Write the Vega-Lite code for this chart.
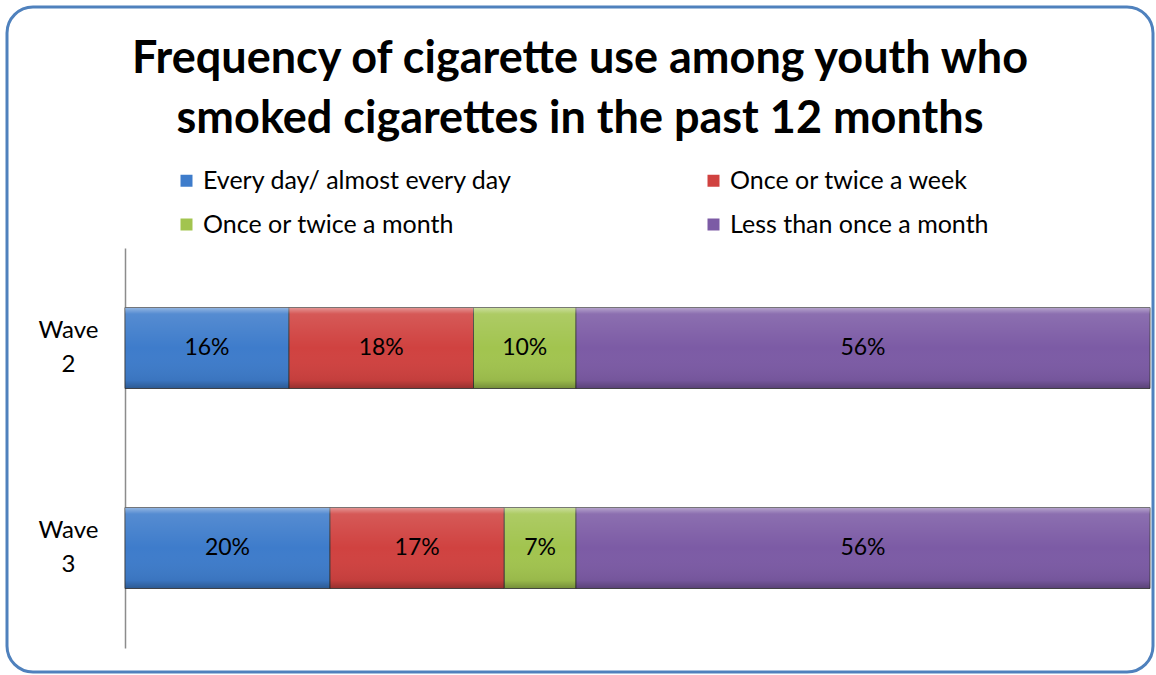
{
  "$schema": "https://vega.github.io/schema/vega-lite/v6.json",
  "width": 1146,
  "height": 665,
  "autosize": {"type": "none"},
  "padding": {"left": 7, "top": 7, "right": 3, "bottom": 3},
  "background": "white",
  "view": {"stroke": "#4F81BD", "strokeWidth": 3, "cornerRadius": 26, "fill": "white"},
  "title": {
    "text": ["Frequency of cigarette use among youth who", "smoked cigarettes in the past 12 months"],
    "anchor": "middle",
    "font": "Lato",
    "fontSize": 45,
    "fontWeight": "bold",
    "color": "#000000",
    "lineHeight": 60,
    "offset": -135
  },
  "data": {
    "values": [
      {"wave": "Wave 2", "cat": "Every day/ almost every day", "k": 1, "pct": 0.16},
      {"wave": "Wave 2", "cat": "Once or twice a week", "k": 2, "pct": 0.18},
      {"wave": "Wave 2", "cat": "Once or twice a month", "k": 3, "pct": 0.10},
      {"wave": "Wave 2", "cat": "Less than once a month", "k": 4, "pct": 0.56},
      {"wave": "Wave 3", "cat": "Every day/ almost every day", "k": 1, "pct": 0.20},
      {"wave": "Wave 3", "cat": "Once or twice a week", "k": 2, "pct": 0.17},
      {"wave": "Wave 3", "cat": "Once or twice a month", "k": 3, "pct": 0.07},
      {"wave": "Wave 3", "cat": "Less than once a month", "k": 4, "pct": 0.56}
    ]
  },
  "encoding": {
    "y": {
      "field": "wave",
      "type": "nominal",
      "title": null,
      "scale": {"domain": ["Wave 2", "Wave 3"], "range": [241, 641], "paddingInner": 0.595, "paddingOuter": 0.2975},
      "axis": {
        "offset": -118,
        "domainColor": "#8C8C8C",
        "domainWidth": 1.5,
        "ticks": false,
        "tickSize": 0,
        "labelPadding": 57,
        "labelAlign": "center",
        "labelBaseline": "middle",
        "labelOffset": -17,
        "labelFont": "Lato",
        "labelFontSize": 24,
        "labelColor": "#000000",
        "labelLineHeight": 34,
        "labelExpr": "split(datum.label, ' ')",
        "grid": false
      }
    }
  },
  "layer": [
    {
      "mark": {"type": "bar", "stroke": "#3a3a3a", "strokeWidth": 1, "strokeOpacity": 0.85},
      "encoding": {
        "x": {
          "field": "pct",
          "type": "quantitative",
          "stack": "zero",
          "scale": {"domain": [0, 1], "range": [118, 1143]},
          "axis": null
        },
        "order": {"field": "k", "type": "quantitative"},
        "color": {
          "field": "cat",
          "type": "nominal",
          "sort": ["Every day/ almost every day", "Once or twice a week", "Once or twice a month", "Less than once a month"],
          "scale": {
            "domain": ["Every day/ almost every day", "Once or twice a week", "Once or twice a month", "Less than once a month"],
            "range": ["#3E7CCB", "#D04240", "#A2C44F", "#7C5BA5"]
          },
          "legend": {
            "title": null,
            "orient": "none",
            "direction": "horizontal",
            "legendX": 167,
            "legendY": 161,
            "columns": 2,
            "columnPadding": 188,
            "rowPadding": 18,
            "padding": 0,
            "symbolType": "square",
            "symbolSize": 144,
            "symbolStrokeWidth": 0,
            "labelFont": "Lato",
            "labelFontSize": 25,
            "labelColor": "#000000",
            "labelOffset": 4,
            "labelLimit": 500
          }
        }
      }
    },
    {
      "mark": {
        "type": "bar",
        "strokeWidth": 0,
        "fill": {
          "gradient": "linear",
          "x1": 0, "y1": 0, "x2": 0, "y2": 1,
          "stops": [
            {"offset": 0, "color": "rgba(255,255,255,0.45)"},
            {"offset": 0.08, "color": "rgba(255,255,255,0.12)"},
            {"offset": 0.5, "color": "rgba(255,255,255,0)"},
            {"offset": 0.9, "color": "rgba(0,0,0,0.06)"},
            {"offset": 1, "color": "rgba(0,0,0,0.28)"}
          ]
        }
      },
      "encoding": {
        "x": {"field": "pct", "type": "quantitative", "stack": "zero"},
        "detail": {"field": "cat", "type": "nominal"},
        "order": {"field": "k", "type": "quantitative"}
      }
    },
    {
      "mark": {"type": "text", "font": "Lato", "fontSize": 23, "color": "#000000", "baseline": "middle", "align": "center"},
      "encoding": {
        "x": {"field": "pct", "type": "quantitative", "stack": "zero", "bandPosition": 0.5},
        "detail": {"field": "cat", "type": "nominal"},
        "order": {"field": "k", "type": "quantitative"},
        "text": {"field": "pct", "type": "quantitative", "format": ".0%"}
      }
    }
  ]
}
